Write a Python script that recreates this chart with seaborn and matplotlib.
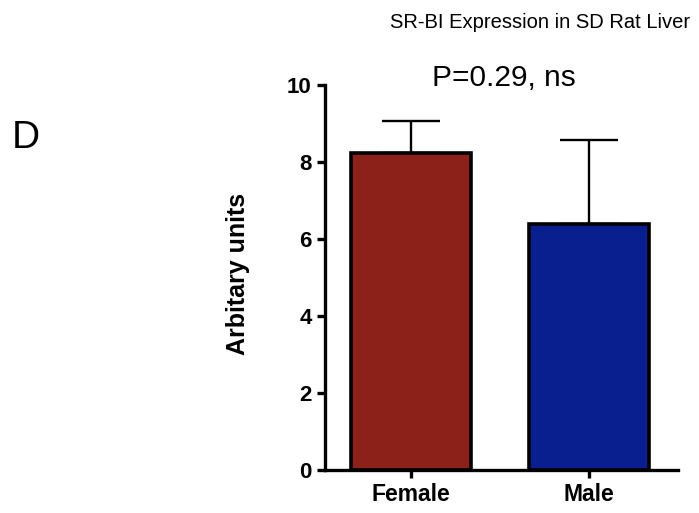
import pandas as pd
import seaborn as sns
import matplotlib.pyplot as plt

# Values
groups = ['Female', 'Male']
means = [8.23, 6.39]
sem = [0.83, 2.18]
bar_colors = ['#8c2119', '#0a1f8f']

df = pd.DataFrame({'Sex': groups, 'Value': means})

sns.set_style('ticks')
plt.rcParams['font.family'] = ['Liberation Sans', 'DejaVu Sans']
plt.rcParams['text.color'] = 'black'
plt.rcParams['axes.labelcolor'] = 'black'
plt.rcParams['xtick.color'] = 'black'
plt.rcParams['ytick.color'] = 'black'
plt.rcParams['axes.edgecolor'] = 'black'

fig = plt.figure(figsize=(6.99, 5.13), dpi=100)
ax = fig.add_axes([0.465, 0.0838, 0.505, 0.750])

sns.barplot(data=df, x='Sex', y='Value', hue='Sex', palette=bar_colors,
            saturation=1, errorbar=None, width=0.67, edgecolor='black',
            linewidth=2.6, legend=False, ax=ax, zorder=2)

# only the upper error bar, as in the original
ax.errorbar(range(len(groups)), means, yerr=[[0] * len(sem), sem], fmt='none',
            ecolor='black', elinewidth=1.7, capsize=21, capthick=1.7, zorder=1)

ax.set_ylim(0, 10)
ax.set_xlim(-0.483, 1.5)
ax.set_yticks([0, 2, 4, 6, 8, 10])
sns.despine(ax=ax)
for s in ['left', 'bottom']:
    ax.spines[s].set_linewidth(2.4)
ax.tick_params(width=2.4, length=6)
ax.tick_params(axis='y', labelsize=16)
ax.tick_params(axis='x', labelsize=16.5)
for lab in ax.get_xticklabels() + ax.get_yticklabels():
    lab.set_fontweight('bold')

ax.set_xlabel('')
ax.set_ylabel('Arbitary units', fontsize=18, fontweight='bold')
ax.yaxis.set_label_coords(-0.213, 0.51)

fig.text(0.773, 0.957, 'SR-BI Expression in SD Rat Liver', fontsize=14.5,
         ha='center', va='center')
fig.text(0.721, 0.848, 'P=0.29, ns', fontsize=21.5, ha='center', va='center')
fig.text(0.037, 0.731, 'D', fontsize=28, ha='center', va='center')

plt.savefig('out.png', dpi=100)
